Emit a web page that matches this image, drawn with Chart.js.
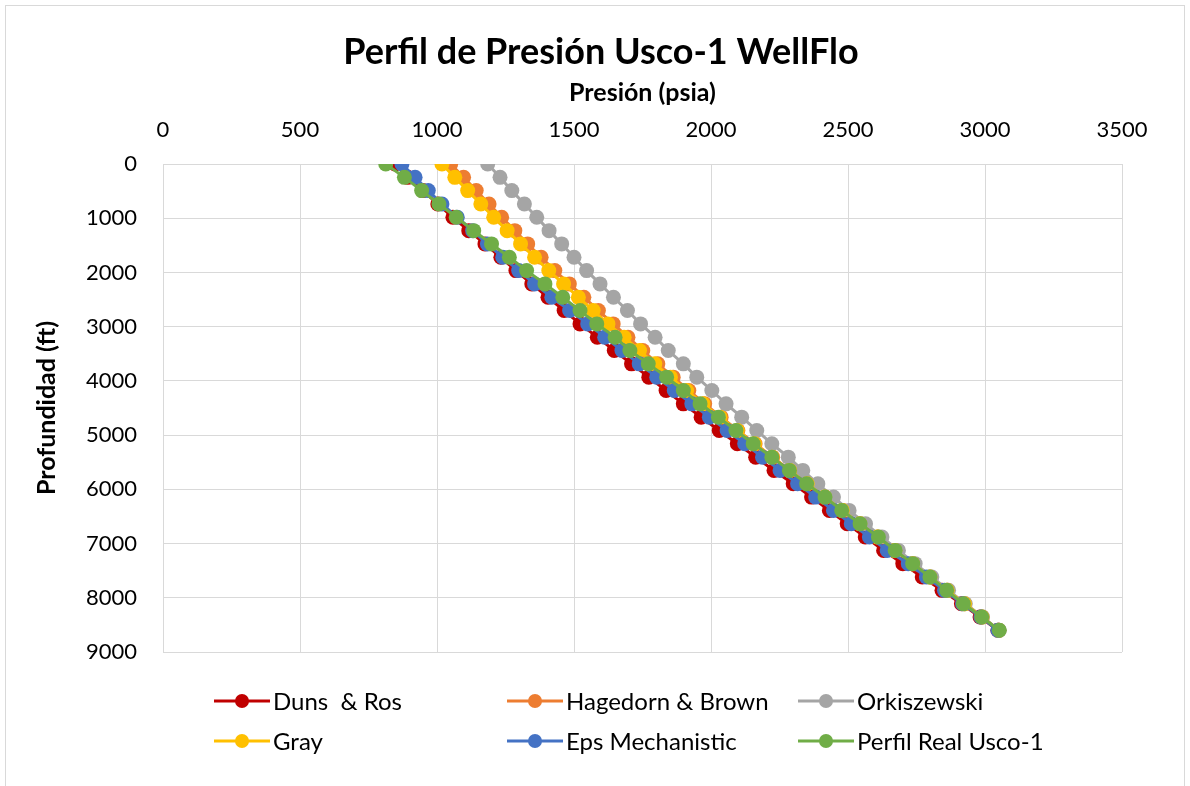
<!DOCTYPE html>
<html>
<head>
<meta charset="utf-8">
<script src="https://cdn.jsdelivr.net/npm/chart.js@4.4.1/dist/chart.umd.min.js"></script>
<style>
  html, body { margin: 0; padding: 0; background: #ffffff; }
  #wrap { position: relative; width: 1190px; height: 786px; }
</style>
</head>
<body>
<div id="wrap"><canvas id="c" width="1190" height="786"></canvas></div>
<script>
// Depth stations (ft), shared by every profile
const depthFt = [0, 246, 491, 737, 983, 1229, 1474, 1720, 1966, 2211, 2457, 2703,
  2949, 3194, 3440, 3686, 3931, 4177, 4423, 4669, 4914, 5160, 5406, 5651,
  5897, 6143, 6389, 6634, 6880, 7126, 7371, 7617, 7863, 8109, 8354, 8600];

// Pressure (psia) at each depth, one array per correlation
const dunsRos = [847, 893, 948, 1003, 1058, 1116, 1175, 1233, 1288, 1346, 1405, 1464,
  1522, 1585, 1647, 1710, 1773, 1836, 1899, 1964, 2030, 2096, 2163, 2230,
  2300, 2367, 2432, 2497, 2563, 2630, 2700, 2771, 2843, 2914, 2982, 3047];
const hagedornBrown = [1050, 1097, 1143, 1190, 1236, 1284, 1331, 1380, 1430, 1483, 1536, 1589,
  1643, 1697, 1751, 1806, 1862, 1919, 1977, 2037, 2098, 2161, 2225, 2289,
  2353, 2417, 2481, 2545, 2609, 2673, 2737, 2800, 2863, 2926, 2990, 3051];
const orkiszewski = [1185, 1230, 1273, 1319, 1364, 1409, 1455, 1500, 1546, 1595, 1644, 1695,
  1743, 1796, 1844, 1899, 1948, 2003, 2055, 2112, 2167, 2222, 2282, 2335,
  2390, 2447, 2504, 2564, 2624, 2684, 2745, 2806, 2867, 2928, 2991, 3052];
const grayCorr = [1018, 1065, 1112, 1160, 1207, 1256, 1305, 1356, 1408, 1462, 1516, 1570,
  1624, 1683, 1739, 1795, 1852, 1911, 1971, 2033, 2096, 2159, 2223, 2287,
  2351, 2415, 2479, 2543, 2607, 2671, 2735, 2799, 2862, 2925, 2989, 3050];
const epsMechanistic = [872, 920, 968, 1018, 1074, 1130, 1184, 1240, 1298, 1356, 1419, 1484,
  1550, 1612, 1675, 1738, 1802, 1866, 1930, 1994, 2059, 2123, 2188, 2252,
  2316, 2382, 2447, 2512, 2578, 2643, 2720, 2786, 2852, 2918, 2985, 3047];
const perfilReal = [813, 881, 944, 1007, 1070, 1134, 1199, 1264, 1327, 1394, 1459, 1522,
  1583, 1650, 1704, 1771, 1838, 1899, 1960, 2027, 2091, 2154, 2222, 2286,
  2349, 2416, 2477, 2544, 2611, 2672, 2736, 2799, 2860, 2921, 2988, 3052];

const seriesNames = ['Duns  & Ros', 'Hagedorn & Brown', 'Orkiszewski', 'Gray', 'Eps Mechanistic', 'Perfil Real Usco-1'];
const seriesValues = [dunsRos, hagedornBrown, orkiszewski, grayCorr, epsMechanistic, perfilReal];
const seriesColors = ['#C00000', '#ED7D31', '#A5A5A5', '#FFC000', '#4472C4', '#70AD47'];

const pressureTicks = [0, 500, 1000, 1500, 2000, 2500, 3000, 3500];
const depthTicks = [0, 1000, 2000, 3000, 4000, 5000, 6000, 7000, 8000, 9000];

const chartTitle = 'Perfil de Presión Usco-1 WellFlo';
const FONT = 'Lato, "Open Sans", sans-serif';

const datasets = seriesValues.map((vals, k) => ({
  label: seriesNames[k],
  data: vals.map((p, i) => ({ x: p, y: depthFt[i] })),
  showLine: true,
  borderColor: seriesColors[k],
  backgroundColor: seriesColors[k],
  pointBackgroundColor: seriesColors[k],
  pointBorderColor: seriesColors[k],
  borderWidth: 3,
  pointRadius: 7.5,
  pointBorderWidth: 0,
  pointHoverRadius: 7.5,
  order: seriesNames.length - k   // later series sit on top
}));

// White card with a thin frame, plus the chart heading
const framePlugin = {
  id: 'frame',
  beforeDraw(chart) {
    const ctx = chart.ctx;
    ctx.save();
    ctx.fillStyle = '#ffffff';
    ctx.fillRect(0, 0, chart.width, chart.height);
    ctx.strokeStyle = '#d9d9d9';
    ctx.lineWidth = 1;
    ctx.strokeRect(5.5, 5.5, 1179, 800);
    ctx.fillStyle = '#000000';
    ctx.font = 'bold 36px ' + FONT;
    ctx.textAlign = 'center';
    ctx.textBaseline = 'alphabetic';
    ctx.fillText(chartTitle, 601, 64);
    ctx.restore();
  }
};

// Two-row legend beneath the plot
const legendPlugin = {
  id: 'gridLegend',
  afterDraw(chart) {
    const ctx = chart.ctx;
    const colX = [214, 507, 798];
    const rowY = [701, 741];
    ctx.save();
    ctx.font = '24px ' + FONT;
    ctx.textBaseline = 'middle';
    ctx.textAlign = 'left';
    chart.data.datasets.forEach((ds, k) => {
      const x = colX[k % 3];
      const y = rowY[Math.floor(k / 3)];
      ctx.strokeStyle = ds.borderColor;
      ctx.lineWidth = 3;
      ctx.beginPath();
      ctx.moveTo(x, y);
      ctx.lineTo(x + 56, y);
      ctx.stroke();
      ctx.fillStyle = ds.borderColor;
      ctx.beginPath();
      ctx.arc(x + 28, y, 7, 0, Math.PI * 2);
      ctx.fill();
      ctx.fillStyle = '#000000';
      ctx.fillText(ds.label, x + 59, y + 1);
    });
    ctx.restore();
  }
};

const plainNumber = v => String(v);

new Chart(document.getElementById('c'), {
  type: 'scatter',
  data: { datasets },
  plugins: [framePlugin, legendPlugin],
  options: {
    responsive: false,
    devicePixelRatio: 1,
    animation: false,
    layout: { padding: { left: 14, right: 68, top: 70.4, bottom: 134 } },
    plugins: {
      legend: { display: false },
      tooltip: { enabled: false },
      title: { display: false }
    },
    scales: {
      x: {
        type: 'linear',
        position: 'top',
        min: 0,
        max: 3500,
        afterBuildTicks(scale) { scale.ticks = pressureTicks.map(v => ({ value: v })); },
        afterFit(scale) { scale.height = 93.6; },
        ticks: { color: '#000000', padding: 21, font: { family: FONT, size: 22 }, callback: plainNumber },
        grid: { color: '#d9d9d9', lineWidth: 1, drawTicks: false },
        border: { color: '#d9d9d9' },
        title: {
          display: true,
          text: 'Presión (psia)',
          color: '#000000',
          font: { family: FONT, size: 25, weight: 'bold' },
          padding: { top: 7.6, bottom: 0 }
        }
      },
      y: {
        type: 'linear',
        reverse: true,
        min: 0,
        max: 9000,
        afterBuildTicks(scale) { scale.ticks = depthTicks.map(v => ({ value: v })); },
        afterFit(scale) { scale.width = 149; },
        ticks: { color: '#000000', padding: 26, font: { family: FONT, size: 22 }, callback: plainNumber },
        grid: { color: '#d9d9d9', lineWidth: 1, drawTicks: false },
        border: { color: '#d9d9d9' },
        title: {
          display: true,
          text: 'Profundidad (ft)',
          color: '#000000',
          font: { family: FONT, size: 25, weight: 'bold' },
          padding: { top: 18, bottom: 0 }
        }
      }
    }
  }
});
</script>
</body>
</html>
